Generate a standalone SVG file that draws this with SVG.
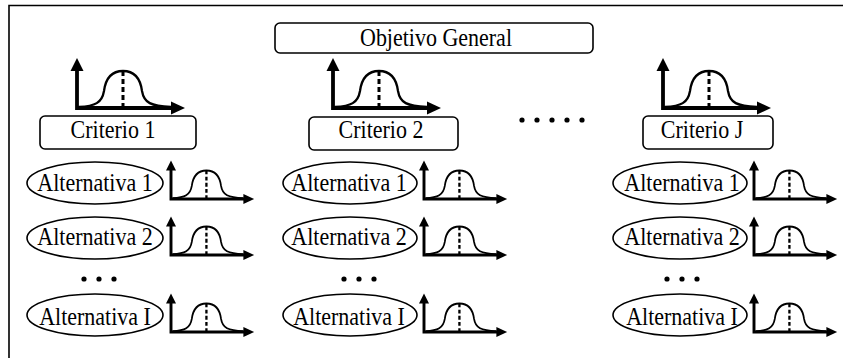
<svg xmlns="http://www.w3.org/2000/svg" xmlns:xlink="http://www.w3.org/1999/xlink" width="843" height="358" viewBox="0 0 843 358">
<style>
.frame{fill:none;stroke:#000;stroke-width:1.6}
.box{fill:#fff;stroke:#000;stroke-width:1.6}
.ell{fill:#fff;stroke:#000;stroke-width:1.6}
.t{font-family:"Liberation Serif","Times New Roman",serif;font-size:22px;fill:#000;text-anchor:middle}
.axis{fill:none;stroke:#000;stroke-width:3.8}
.curve{fill:none;stroke:#000;stroke-width:2.3}
.dash{fill:none;stroke:#000;stroke-width:3;stroke-dasharray:5 3}
.dot{fill:#000}
</style>
<defs>
<g id="chart">
<path class="curve" d="M2,-1 C18,-2 25,-5 27,-17 C29,-32 36,-37 46,-37 C56,-37 63,-32 65,-17 C67,-5 74,-2 94,-1"/>
<path class="dash" d="M46,-37 V0"/>
<path class="axis" d="M0,1.9 V-38 M-1.9,0 H95"/>
<polygon points="0,-50 -6.5,-37 6.5,-37" fill="#000"/>
<polygon points="108,0 94,-6.5 94,6.5" fill="#000"/>
</g>
</defs>

<g id="frame">
<path class="frame" d="M9,358 V5.5 H843"/>
</g>

<g id="objetivo">
<rect class="box" x="275" y="23" width="318" height="30" rx="5"/>
<text class="t" transform="matrix(1,0,0,1.15,436,46)">Objetivo General</text>
</g>

<g id="criterio1">
<rect class="box" x="40" y="116" width="156" height="33" rx="5"/>
<text class="t" transform="matrix(1,0,0,1.15,113,138)">Criterio 1</text>
</g>
<g id="criterio2">
<rect class="box" x="309" y="117" width="149" height="33" rx="5"/>
<text class="t" transform="matrix(1,0,0,1.15,381,138)">Criterio 2</text>
</g>
<g id="criterioJ">
<rect class="box" x="643" y="116" width="130" height="33" rx="5"/>
<text class="t" transform="matrix(1,0,0,1.15,702,138)">Criterio J</text>
</g>

<g id="dots-criterios">
<circle class="dot" cx="522" cy="120" r="2.6"/>
<circle class="dot" cx="537" cy="120" r="2.6"/>
<circle class="dot" cx="552" cy="120" r="2.6"/>
<circle class="dot" cx="567" cy="120" r="2.6"/>
<circle class="dot" cx="582" cy="120" r="2.6"/>
</g>

<g id="alt-c1-1"><ellipse class="ell" cx="95" cy="183" rx="68" ry="21"/><text class="t" transform="matrix(1,0,0,1.15,95,191)">Alternativa 1</text></g>
<g id="alt-c1-2"><ellipse class="ell" cx="95" cy="238" rx="68" ry="21"/><text class="t" transform="matrix(1,0,0,1.15,95,245)">Alternativa 2</text></g>
<g id="alt-c1-I"><ellipse class="ell" cx="95" cy="315" rx="68" ry="21"/><text class="t" transform="matrix(1,0,0,1.15,95,325)">Alternativa I</text></g>

<g id="alt-c2-1"><ellipse class="ell" cx="350" cy="183" rx="67" ry="21"/><text class="t" transform="matrix(1,0,0,1.15,349,191)">Alternativa 1</text></g>
<g id="alt-c2-2"><ellipse class="ell" cx="350" cy="238" rx="67" ry="21"/><text class="t" transform="matrix(1,0,0,1.15,349,245)">Alternativa 2</text></g>
<g id="alt-c2-I"><ellipse class="ell" cx="350" cy="315" rx="67" ry="21"/><text class="t" transform="matrix(1,0,0,1.15,349,325)">Alternativa I</text></g>

<g id="alt-c3-1"><ellipse class="ell" cx="680" cy="183" rx="67" ry="21"/><text class="t" transform="matrix(1,0,0,1.15,682,191)">Alternativa 1</text></g>
<g id="alt-c3-2"><ellipse class="ell" cx="680" cy="238" rx="67" ry="21"/><text class="t" transform="matrix(1,0,0,1.15,682,245)">Alternativa 2</text></g>
<g id="alt-c3-I"><ellipse class="ell" cx="680" cy="315" rx="67" ry="21"/><text class="t" transform="matrix(1,0,0,1.15,682,325)">Alternativa I</text></g>

<g id="dots-alternativas">
<circle class="dot" cx="84" cy="279" r="2.6"/><circle class="dot" cx="99" cy="279" r="2.6"/><circle class="dot" cx="114" cy="279" r="2.6"/>
<circle class="dot" cx="344" cy="279" r="2.6"/><circle class="dot" cx="359" cy="279" r="2.6"/><circle class="dot" cx="374" cy="279" r="2.6"/>
<circle class="dot" cx="667" cy="279" r="2.6"/><circle class="dot" cx="682" cy="279" r="2.6"/><circle class="dot" cx="697" cy="279" r="2.6"/>
</g>

<g id="charts">
<use xlink:href="#chart" transform="translate(77,108)"/>
<use xlink:href="#chart" transform="translate(333,108)"/>
<use xlink:href="#chart" transform="translate(663,108)"/>
<use xlink:href="#chart" transform="translate(171,199) scale(0.77)"/>
<use xlink:href="#chart" transform="translate(171,255) scale(0.77)"/>
<use xlink:href="#chart" transform="translate(171,332) scale(0.77)"/>
<use xlink:href="#chart" transform="translate(424,199) scale(0.77)"/>
<use xlink:href="#chart" transform="translate(424,255) scale(0.77)"/>
<use xlink:href="#chart" transform="translate(424,332) scale(0.77)"/>
<use xlink:href="#chart" transform="translate(754,199) scale(0.77)"/>
<use xlink:href="#chart" transform="translate(754,255) scale(0.77)"/>
<use xlink:href="#chart" transform="translate(754,332) scale(0.77)"/>
</g>
</svg>
